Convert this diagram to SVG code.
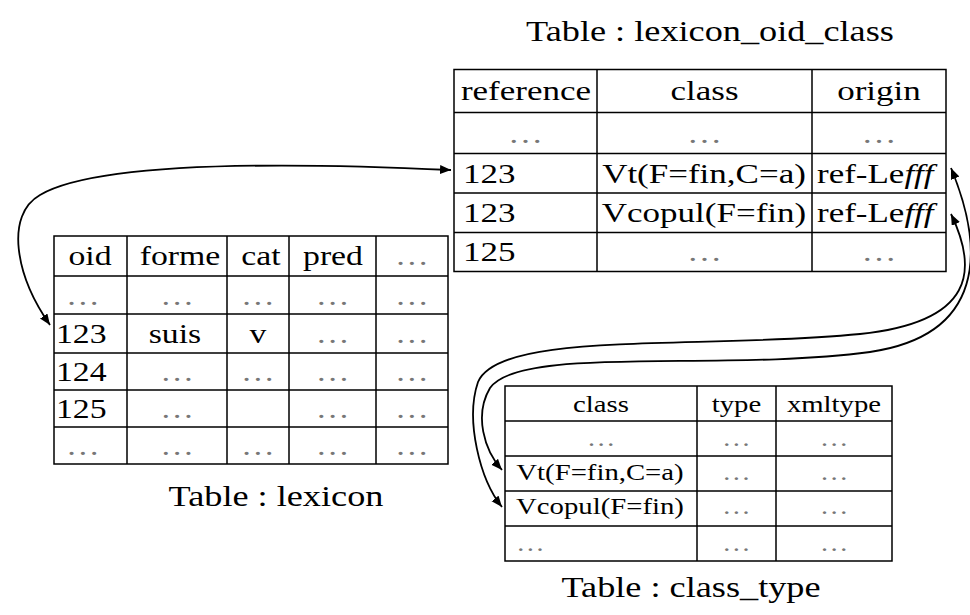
<svg xmlns="http://www.w3.org/2000/svg" width="970" height="615" viewBox="0 0 970 615">
<style>
text{font-family:"Liberation Serif","Times New Roman",serif;fill:#000}
.t{font-size:29px;text-anchor:middle}
.a{font-size:28px}
.b{font-size:27px}
.c{font-size:23px}
.m{text-anchor:middle}
.d{fill:#777}
.grid{fill:none;stroke:#000;stroke-width:1.5}
.conn{fill:none;stroke:#000;stroke-width:1.8}
</style>
<defs>
<marker id="ah" markerUnits="userSpaceOnUse" markerWidth="12" markerHeight="10" refX="11" refY="4.5" orient="auto-start-reverse">
<path d="M0,0 L11,4.5 L0,9 z" fill="#000"/>
</marker>
</defs>
<rect width="970" height="615" fill="#fff"/>

<g id="lexicon_oid_class">
<path class="grid" d="M454,69.5H946V271.5H454Z M454,112.5H946 M454,153.5H946 M454,193H946 M454,232.5H946 M597,69.5V271.5 M812,69.5V271.5"/>
<g transform="scale(1.25,1)">
<text class="t" x="568" y="41">Table : lexicon_oid_class</text>
<text class="a m" x="420.8" y="100">reference</text>
<text class="a m" x="563.6" y="100">class</text>
<text class="a m" x="703.2" y="100">origin</text>
<text class="a m d" x="420.4" y="143">…</text>
<text class="a m d" x="563.6" y="143">…</text>
<text class="a m d" x="703.2" y="143">…</text>
<text class="a" x="370.4" y="183">123</text>
<text class="a m" x="563.2" y="183">Vt(F=fin,C=a)</text>
<text class="a" x="653.6" y="183">ref-Le<tspan font-style="italic">fff</tspan></text>
<text class="a" x="370.4" y="222">123</text>
<text class="a m" x="563.2" y="222">Vcopul(F=fin)</text>
<text class="a" x="653.6" y="222">ref-Le<tspan font-style="italic">fff</tspan></text>
<text class="a" x="370.4" y="261">125</text>
<text class="a m d" x="563.6" y="261">…</text>
<text class="a m d" x="703.2" y="261">…</text>
</g>
</g>

<g id="lexicon">
<path class="grid" d="M54,236H448V464H54Z M54,276H448 M54,314H448 M54,353H448 M54,390H448 M54,427H448 M127,236V464 M227,236V464 M289,236V464 M376,236V464"/>
<g transform="scale(1.25,1)">
<text class="t" x="220.8" y="506">Table : lexicon</text>
<text class="b m" x="72" y="265">oid</text>
<text class="b m" x="144" y="265">forme</text>
<text class="b m" x="208.8" y="265">cat</text>
<text class="b m" x="266.4" y="265">pred</text>
<text class="b m d" x="329.6" y="265">…</text>
<text class="b d" x="52.8" y="305">…</text>
<text class="b m d" x="141.6" y="305">…</text>
<text class="b m d" x="206.4" y="305">…</text>
<text class="b m d" x="266" y="305">…</text>
<text class="b m d" x="329.6" y="305">…</text>
<text class="b" x="44.8" y="343">123</text>
<text class="b m" x="140" y="343">suis</text>
<text class="b m" x="206.4" y="343">v</text>
<text class="b m d" x="266" y="343">…</text>
<text class="b m d" x="329.6" y="343">…</text>
<text class="b" x="44.8" y="381">124</text>
<text class="b m d" x="141.6" y="381">…</text>
<text class="b m d" x="206.4" y="381">…</text>
<text class="b m d" x="266" y="381">…</text>
<text class="b m d" x="329.6" y="381">…</text>
<text class="b" x="44.8" y="418">125</text>
<text class="b m d" x="141.6" y="418">…</text>
<text class="b m d" x="266" y="418">…</text>
<text class="b m d" x="329.6" y="418">…</text>
<text class="b d" x="52.8" y="455">…</text>
<text class="b m d" x="141.6" y="455">…</text>
<text class="b m d" x="206.4" y="455">…</text>
<text class="b m d" x="266" y="455">…</text>
<text class="b m d" x="329.6" y="455">…</text>
</g>
</g>

<g id="class_type">
<path class="grid" d="M505,386H892V561H505Z M505,421H892 M505,456H892 M505,491H892 M505,526H892 M697,386V561 M776,386V561"/>
<g transform="scale(1.25,1)">
<text class="t" x="552.8" y="597">Table : class_type</text>
<text class="c m" x="480.8" y="412">class</text>
<text class="c m" x="589.2" y="412">type</text>
<text class="c m" x="667.2" y="412">xmltype</text>
<text class="c m d" x="480.8" y="446">…</text>
<text class="c m d" x="589.2" y="446">…</text>
<text class="c m d" x="667.2" y="446">…</text>
<text class="c m" x="480" y="480">Vt(F=fin,C=a)</text>
<text class="c m d" x="589.2" y="480">…</text>
<text class="c m d" x="667.2" y="480">…</text>
<text class="c m" x="480" y="514">Vcopul(F=fin)</text>
<text class="c m d" x="589.2" y="514">…</text>
<text class="c m d" x="667.2" y="514">…</text>
<text class="c d" x="412.8" y="551">…</text>
<text class="c m d" x="589.2" y="551">…</text>
<text class="c m d" x="667.2" y="551">…</text>
</g>
</g>

<g id="connectors">
<path class="conn" marker-start="url(#ah)" marker-end="url(#ah)" d="M50,325 C15,275 5,215 40,195 C100,160 300,163 451,170"/>
<path class="conn" marker-start="url(#ah)" marker-end="url(#ah)" d="M951,168 C985,250 985,335 870,352 C720,372 520,345 490,388 C474,415 484,450 502,470"/>
<path class="conn" marker-start="url(#ah)" marker-end="url(#ah)" d="M951,214 C978,270 975,322 860,334 C700,350 500,330 478,382 C465,420 480,480 502,507"/>
</g>
</svg>
